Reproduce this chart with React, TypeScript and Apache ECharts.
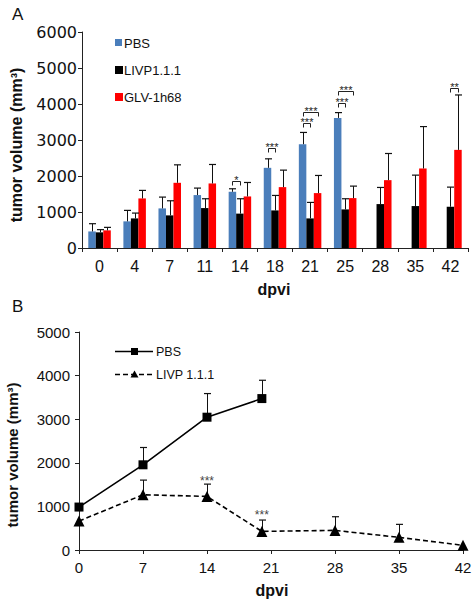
import React, { useEffect, useRef } from "react";
import * as echarts from "echarts";

// ---------- Panel A data ----------
const daysA = ["0", "4", "7", "11", "14", "18", "21", "25", "28", "35", "42"];
const pbsA = [460, 740, 1100, 1470, 1562, 2227, 2883, 3614, null, null, null];
const pbsAUp = [675, 1045, 1414, 1664, 1645, 2477, 3210, 3761, null, null, null];
const livpA = [435, 822, 906, 1109, 955, 1044, 822, 1072, 1220, 1165, 1146];
const livpAUp = [510, 970, 1312, 1368, 1368, 1460, 1266, 1368, 1682, 2024, 1691];
const glvA = [490, 1377, 1811, 1793, 1432, 1691, 1525, 1386, 1885, 2209, 2726];
const glvAUp = [573, 1600, 2310, 2320, 1820, 2163, 2015, 1719, 2625, 3373, 4251];

// significance brackets: category index, height, from slot, to slot (0=PBS,1=LIVP,2=GLV), label
const sigCat = [4, 5, 6, 6, 7, 7, 10];
const sigY = [1867, 2773, 3470, 3786, 4020, 4370, 4436];
const sigFrom = [0, 0, 0, 0, 0, 0, 1];
const sigTo = [1, 1, 1, 2, 1, 2, 2];
const sigText = ["*", "***", "***", "***", "***", "***", "**"];

// ---------- Panel B data ----------
const pbsBX = [0, 7, 14, 20];
const pbsB = [985, 1954, 3046, 3473];
const pbsBUp = [985, 2351, 3588, 3893];
const livpBX = [0, 7, 14, 20, 28, 35, 42];
const livpB = [664, 1267, 1229, 427, 450, 290, 107];
const livpBUp = [664, 1603, 1511, 687, 763, 588, 107];
const starBX = [14, 20];
const starBY = [1573, 809];
const starBText = ["***", "***"];

const BLUE = "#4A7EBB";
const RED = "#FF0000";
const BAR_W = 7.5;
const FONT = "Liberation Sans, Arial, sans-serif";

function errorSeriesA(name: string, means: (number | null)[], ups: (number | null)[], slot: number) {
  const data: number[][] = [];
  means.forEach((m, i) => {
    const u = ups[i];
    if (m != null && u != null) data.push([i, m, u]);
  });
  return {
    type: "custom",
    name,
    xAxisIndex: 0,
    yAxisIndex: 0,
    z: 5,
    silent: true,
    encode: { x: 0, y: 1 },
    data,
    renderItem: (_p: any, api: any) => {
      const cat = api.value(0);
      const p0 = api.coord([cat, api.value(1)]);
      const p1 = api.coord([cat, api.value(2)]);
      const x = Math.round(p0[0] + (slot - 1) * BAR_W) + 0.5;
      return {
        type: "group",
        children: [
          { type: "line", shape: { x1: x, y1: p0[1], x2: x, y2: p1[1] }, style: { stroke: "#111", lineWidth: 1 } },
          { type: "line", shape: { x1: x - 3.5, y1: p1[1], x2: x + 3.5, y2: p1[1] }, style: { stroke: "#111", lineWidth: 1.2 } },
        ],
      };
    },
  };
}

function errorSeriesB(xs: number[], means: number[], ups: number[]) {
  const data: number[][] = [];
  xs.forEach((x, i) => {
    if (ups[i] > means[i]) data.push([x, means[i], ups[i]]);
  });
  return {
    type: "custom",
    xAxisIndex: 1,
    yAxisIndex: 1,
    z: 1,
    silent: true,
    encode: { x: 0, y: 1 },
    data,
    renderItem: (_p: any, api: any) => {
      const p0 = api.coord([api.value(0), api.value(1)]);
      const p1 = api.coord([api.value(0), api.value(2)]);
      const x = Math.round(p0[0]) + 0.5;
      return {
        type: "group",
        children: [
          { type: "line", shape: { x1: x, y1: p0[1], x2: x, y2: p1[1] }, style: { stroke: "#111", lineWidth: 1 } },
          { type: "line", shape: { x1: x - 3.5, y1: p1[1], x2: x + 3.5, y2: p1[1] }, style: { stroke: "#111", lineWidth: 1.2 } },
        ],
      };
    },
  };
}

const plain = (v: number) => String(v);

export default function App() {
  const ref = useRef<HTMLDivElement>(null);
  useEffect(() => {
    if (!ref.current) return;
    const chart = echarts.init(ref.current, undefined, { renderer: "svg" });

    const axisLine = { show: true, lineStyle: { color: "#222", width: 1 } };
    const axisTick = { show: true, length: 4, lineStyle: { color: "#222", width: 1 } };

    const option: any = {
      animation: false,
      backgroundColor: "#fff",
      grid: [
        { left: 82, top: 32, width: 386, height: 216 },
        { left: 79, top: 332, width: 384, height: 218 },
      ],
      xAxis: [
        {
          type: "category",
          gridIndex: 0,
          data: daysA,
          axisLine,
          axisTick: { ...axisTick, interval: 0, alignWithLabel: false },
          axisLabel: { fontFamily: FONT, fontSize: 16, color: "#111", margin: 10, interval: 0 },
          splitLine: { show: false },
        },
        {
          type: "value",
          gridIndex: 1,
          min: 0,
          max: 42,
          interval: 7,
          axisLine,
          axisTick,
          axisLabel: { fontFamily: FONT, fontSize: 15, color: "#111", margin: 10, formatter: plain },
          splitLine: { show: false },
        },
      ],
      yAxis: [
        {
          type: "value",
          gridIndex: 0,
          min: 0,
          max: 6000,
          interval: 1000,
          axisLine,
          axisTick,
          axisLabel: { fontFamily: "DejaVu Sans, sans-serif", fontSize: 16, color: "#111", margin: 5, formatter: plain },
          splitLine: { show: false },
        },
        {
          type: "value",
          gridIndex: 1,
          min: 0,
          max: 5000,
          interval: 1000,
          axisLine,
          axisTick,
          axisLabel: { fontFamily: FONT, fontSize: 15, color: "#111", margin: 9, formatter: plain },
          splitLine: { show: false },
        },
      ],
      series: [
        {
          type: "bar",
          name: "PBS",
          xAxisIndex: 0,
          yAxisIndex: 0,
          data: pbsA,
          barWidth: BAR_W,
          barGap: "0%",
          itemStyle: { color: BLUE },
        },
        {
          type: "bar",
          name: "LIVP1.1.1",
          xAxisIndex: 0,
          yAxisIndex: 0,
          data: livpA,
          barWidth: BAR_W,
          barGap: "0%",
          itemStyle: { color: "#000" },
        },
        {
          type: "bar",
          name: "GLV-1h68",
          xAxisIndex: 0,
          yAxisIndex: 0,
          data: glvA,
          barWidth: BAR_W,
          barGap: "0%",
          itemStyle: { color: RED },
        },
        errorSeriesA("errPBS", pbsA, pbsAUp, 0),
        errorSeriesA("errLIVP", livpA, livpAUp, 1),
        errorSeriesA("errGLV", glvA, glvAUp, 2),
        {
          type: "custom",
          xAxisIndex: 0,
          yAxisIndex: 0,
          z: 6,
          silent: true,
          encode: { x: 0, y: 1 },
          itemStyle: { color: "#222" },
          data: sigCat.map((c, i) => [c, sigY[i]]),
          renderItem: (p: any, api: any) => {
            const i = p.dataIndex;
            const pt = api.coord([api.value(0), api.value(1)]);
            const y = Math.round(pt[1]) + 0.5;
            const xa = Math.round(pt[0] + (sigFrom[i] - 1) * BAR_W) + 0.5;
            const xb = Math.round(pt[0] + (sigTo[i] - 1) * BAR_W) + 0.5;
            return {
              type: "group",
              children: [
                {
                  type: "polyline",
                  shape: { points: [[xa, y + 4], [xa, y], [xb, y], [xb, y + 4]] },
                  style: { stroke: "#222", lineWidth: 1, fill: "none" },
                },
                {
                  type: "text",
                  x: (xa + xb) / 2,
                  y: y - 1.5,
                  style: {
                    text: sigText[i],
                    fontFamily: FONT,
                    fontSize: 11,
                    lineHeight: 6,
                    fill: "#222",
                    align: "center",
                    verticalAlign: "middle",
                  },
                },
              ],
            };
          },
        },
        errorSeriesB(pbsBX, pbsB, pbsBUp),
        errorSeriesB(livpBX, livpB, livpBUp),
        {
          type: "line",
          name: "PBS",
          xAxisIndex: 1,
          yAxisIndex: 1,
          data: pbsBX.map((x, i) => [x, pbsB[i]]),
          symbol: "rect",
          symbolSize: 9,
          z: 3,
          lineStyle: { color: "#000", width: 1.6 },
          itemStyle: { color: "#000" },
        },
        {
          type: "line",
          name: "LIVP 1.1.1",
          xAxisIndex: 1,
          yAxisIndex: 1,
          data: livpBX.map((x, i) => [x, livpB[i]]),
          symbol: "triangle",
          symbolSize: 11,
          z: 3,
          lineStyle: { color: "#000", width: 1.6, type: [5, 3] },
          itemStyle: { color: "#000" },
        },
        {
          type: "custom",
          xAxisIndex: 1,
          yAxisIndex: 1,
          z: 6,
          silent: true,
          encode: { x: 0, y: 1 },
          itemStyle: { color: "#444" },
          data: starBX.map((x, i) => [x, starBY[i]]),
          renderItem: (p: any, api: any) => {
            const pt = api.coord([api.value(0), api.value(1)]);
            return {
              type: "text",
              x: pt[0],
              y: pt[1],
              style: {
                text: starBText[p.dataIndex],
                fontFamily: FONT,
                fontSize: 12,
                fill: "#444",
                align: "center",
                verticalAlign: "middle",
              },
            };
          },
        },
      ],
      graphic: [
        { type: "text", x: 12, y: 6, style: { text: "A", fontFamily: FONT, fontSize: 17, fill: "#111" } },
        { type: "text", x: 12, y: 298, style: { text: "B", fontFamily: FONT, fontSize: 17, fill: "#111" } },
        {
          type: "text",
          x: 16.5,
          y: 145,
          rotation: Math.PI / 2,
          style: {
            text: "tumor volume (mm³)",
            fontFamily: FONT,
            fontSize: 16,
            fontWeight: "bold",
            fill: "#111",
            align: "center",
            verticalAlign: "middle",
          },
        },
        {
          type: "text",
          x: 274,
          y: 289,
          style: { text: "dpvi", fontFamily: FONT, fontSize: 16, fontWeight: "bold", fill: "#111", align: "center", verticalAlign: "middle" },
        },
        {
          type: "text",
          x: 12.5,
          y: 455,
          rotation: Math.PI / 2,
          style: {
            text: "tumor volume (mm³)",
            fontFamily: FONT,
            fontSize: 15,
            fontWeight: "bold",
            fill: "#111",
            align: "center",
            verticalAlign: "middle",
          },
        },
        {
          type: "text",
          x: 272,
          y: 590,
          style: { text: "dpvi", fontFamily: FONT, fontSize: 16, fontWeight: "bold", fill: "#111", align: "center", verticalAlign: "middle" },
        },
        // legend A
        { type: "rect", shape: { x: 115, y: 39, width: 7, height: 7 }, style: { fill: BLUE } },
        { type: "text", x: 124, y: 43, style: { text: "PBS", fontFamily: FONT, fontSize: 13, fill: "#111", verticalAlign: "middle" } },
        { type: "rect", shape: { x: 115, y: 66, width: 8, height: 8 }, style: { fill: "#000" } },
        { type: "text", x: 124, y: 70, style: { text: "LIVP1.1.1", fontFamily: FONT, fontSize: 13, fill: "#111", verticalAlign: "middle" } },
        { type: "rect", shape: { x: 115, y: 93, width: 8, height: 8 }, style: { fill: RED } },
        { type: "text", x: 124, y: 97, style: { text: "GLV-1h68", fontFamily: FONT, fontSize: 13, fill: "#111", verticalAlign: "middle" } },
        // legend B
        { type: "line", shape: { x1: 115, y1: 351.5, x2: 153, y2: 351.5 }, style: { stroke: "#000", lineWidth: 1.6 } },
        { type: "rect", shape: { x: 131, y: 348, width: 7, height: 7 }, style: { fill: "#000" } },
        { type: "text", x: 156, y: 352, style: { text: "PBS", fontFamily: FONT, fontSize: 12.5, fill: "#111", verticalAlign: "middle" } },
        { type: "line", shape: { x1: 115, y1: 374.5, x2: 153, y2: 374.5 }, style: { stroke: "#000", lineWidth: 1.6, lineDash: [5, 3] } },
        { type: "polygon", shape: { points: [[134.5, 370.5], [138.5, 377.5], [130.5, 377.5]] }, style: { fill: "#000" } },
        { type: "text", x: 156, y: 375, style: { text: "LIVP 1.1.1", fontFamily: FONT, fontSize: 12.5, fill: "#111", verticalAlign: "middle" } },
      ],
    };
    chart.setOption(option);
    return () => chart.dispose();
  }, []);
  return <div ref={ref} style={{ position: "fixed", left: 0, top: 0, width: 475, height: 605, background: "#fff" }} />;
}
